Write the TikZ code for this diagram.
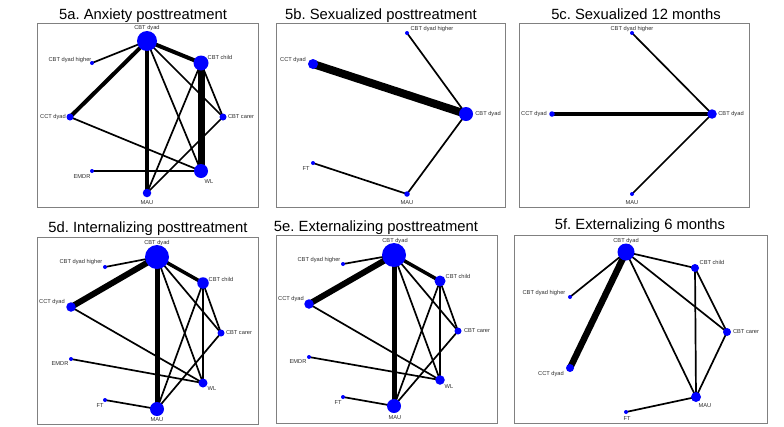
\documentclass[tikz,border=0pt]{standalone}
\usepackage{fontspec}
\setmainfont{Liberation Sans}
\usetikzlibrary{backgrounds}
\frenchspacing
\definecolor{nodeblue}{RGB}{0,0,255}
\definecolor{framegray}{RGB}{128,128,128}
\definecolor{labelgray}{RGB}{45,45,45}
\tikzset{
 dot/.style={circle, fill=nodeblue, draw=none, inner sep=0pt, minimum size=#1},
 lab/.style={font=\fontsize{5.7}{6}\selectfont, text=labelgray, inner sep=0pt},
 ttl/.style={font=\fontsize{14.8}{17}\selectfont, anchor=base, inner sep=0pt},
 frame/.style={draw=framegray, line width=1pt},
 edge/.style={line width=#1, black},
 edge/.default=1.7pt
}
\begin{document}
\begin{tikzpicture}[x=1pt,y=-1pt]
\useasboundingbox (0,0) rectangle (784,426);

% frames
\draw[frame] (37,23) rectangle (258,207);
\draw[frame] (276,23) rectangle (505,207);
\draw[frame] (519,23) rectangle (749,207);
\draw[frame] (37,237) rectangle (258,424);
\draw[frame] (276,235) rectangle (497,423);
\draw[frame] (514,235) rectangle (767,423);

% titles
\node[ttl] (ta) at (143,19) {5a. Anxiety posttreatment};
\node[ttl] (tb) at (381,19) {5b. Sexualized posttreatment};
\node[ttl] (tc) at (636,19) {5c. Sexualized 12 months};
\node[ttl] (td) at (148,232) {5d. Internalizing posttreatment};
\node[ttl] (te) at (376,231) {5e. Externalizing posttreatment};
\node[ttl] (tf) at (640,229) {5f. Externalizing 6 months};

% ---------- panel a ----------
\node[dot=20pt] (ad) at (147,41) {};
\node[dot=4pt] (ah) at (92,63) {};
\node[dot=15pt] (ach) at (201,63) {};
\node[dot=7pt] (acc) at (70,117) {};
\node[dot=7pt] (aca) at (223,117) {};
\node[dot=4pt] (aem) at (92,171) {};
\node[dot=14pt] (awl) at (201,171) {};
\node[dot=8.5pt] (amau) at (147,193) {};
\node[lab] (adL) at (147,28) {CBT dyad};
\node[lab] (ahL) at (70,60) {CBT dyad higher};
\node[lab] (achL) at (220,57) {CBT child};
\node[lab] (accL) at (53,117) {CCT dyad};
\node[lab] (acaL) at (241,117) {CBT carer};
\node[lab] (aemL) at (82,177) {EMDR};
\node[lab] (awlL) at (209,182) {WL};
\node[lab] (amauL) at (147,203) {MAU};
\begin{scope}[on background layer]
\draw[edge=4pt] (ad.center) -- (ach.center);
\draw[edge=4pt] (ad.center) -- (acc.center);
\draw[edge=4.3pt] (ad.center) -- (amau.center);
\draw[edge] (ad.center) -- (ah.center);
\draw[edge] (ad.center) -- (awl.center);
\draw[edge] (ad.center) -- (aca.center);
\draw[edge=7pt] (ach.center) -- (awl.center);
\draw[edge] (ach.center) -- (aca.center);
\draw[edge] (ach.center) -- (amau.center);
\draw[edge] (aca.center) -- (amau.center);
\draw[edge] (acc.center) -- (awl.center);
\draw[edge] (aem.center) -- (awl.center);
\end{scope}

% ---------- panel b ----------
\node[dot=4pt] (bh) at (407,33) {};
\node[dot=10pt] (bcc) at (313,64) {};
\node[dot=14pt] (bd) at (466,114) {};
\node[dot=4pt] (bft) at (313,163) {};
\node[dot=5.5pt] (bmau) at (407,194) {};
\node[lab] (bhL) at (432,29) {CBT dyad higher};
\node[lab] (bccL) at (293,60) {CCT dyad};
\node[lab] (bdL) at (488,114) {CBT dyad};
\node[lab] (bftL) at (306,169) {FT};
\node[lab] (bmauL) at (407,203) {MAU};
\begin{scope}[on background layer]
\draw[edge=8pt] (bcc.center) -- (bd.center);
\draw[edge] (bh.center) -- (bd.center);
\draw[edge] (bd.center) -- (bmau.center);
\draw[edge] (bft.center) -- (bmau.center);
\end{scope}

% ---------- panel c ----------
\node[dot=4pt] (ch) at (632,33) {};
\node[dot=5.5pt] (ccc) at (552,114) {};
\node[dot=9.5pt] (cd) at (712,114) {};
\node[dot=4pt] (cmau) at (632,194) {};
\node[lab] (chL) at (632,29) {CBT dyad higher};
\node[lab] (cccL) at (534,114) {CCT dyad};
\node[lab] (cdL) at (731,114) {CBT dyad};
\node[lab] (cmauL) at (632,203) {MAU};
\begin{scope}[on background layer]
\draw[edge=4.7pt] (ccc.center) -- (cd.center);
\draw[edge] (ch.center) -- (cd.center);
\draw[edge] (cmau.center) -- (cd.center);
\end{scope}

% ---------- panel d ----------
\node[dot=24pt] (dd) at (157,257) {};
\node[dot=4pt] (dh) at (105,267) {};
\node[dot=11.5pt] (dch) at (203,283) {};
\node[dot=9.5pt] (dcc) at (71,307) {};
\node[dot=7pt] (dca) at (221,333) {};
\node[dot=4pt] (dem) at (71,359) {};
\node[dot=9pt] (dwl) at (203,383) {};
\node[dot=4pt] (dft) at (105,400) {};
\node[dot=14pt] (dmau) at (157,409) {};
\node[lab] (ddL) at (157,243) {CBT dyad};
\node[lab] (dhL) at (81,262) {CBT dyad higher};
\node[lab] (dchL) at (221,279) {CBT child};
\node[lab] (dccL) at (52,302) {CCT dyad};
\node[lab] (dcaL) at (239,333) {CBT carer};
\node[lab] (demL) at (60,364) {EMDR};
\node[lab] (dwlL) at (212,389) {WL};
\node[lab] (dftL) at (100,406) {FT};
\node[lab] (dmauL) at (157,420) {MAU};
\begin{scope}[on background layer]
\draw[edge=6pt] (dd.center) -- (dcc.center);
\draw[edge=5pt] (dd.center) -- (dmau.center);
\draw[edge=3.5pt] (dd.center) -- (dch.center);
\draw[edge] (dd.center) -- (dh.center);
\draw[edge] (dd.center) -- (dwl.center);
\draw[edge] (dd.center) -- (dca.center);
\draw[edge] (dch.center) -- (dwl.center);
\draw[edge] (dch.center) -- (dca.center);
\draw[edge] (dch.center) -- (dmau.center);
\draw[edge] (dca.center) -- (dmau.center);
\draw[edge] (dcc.center) -- (dwl.center);
\draw[edge] (dem.center) -- (dwl.center);
\draw[edge] (dft.center) -- (dmau.center);
\end{scope}

% ---------- panel e ----------
\node[dot=24pt] (ed) at (394,255) {};
\node[dot=4pt] (eh) at (343,264) {};
\node[dot=11pt] (ech) at (440,281) {};
\node[dot=9.5pt] (ecc) at (309,304) {};
\node[dot=7pt] (eca) at (458,331) {};
\node[dot=4pt] (eem) at (309,357) {};
\node[dot=9.5pt] (ewl) at (440,380) {};
\node[dot=4pt] (eft) at (343,397) {};
\node[dot=14pt] (emau) at (394,406) {};
\node[lab] (edL) at (395,241) {CBT dyad};
\node[lab] (ehL) at (319,260) {CBT dyad higher};
\node[lab] (echL) at (458,276) {CBT child};
\node[lab] (eccL) at (291,299) {CCT dyad};
\node[lab] (ecaL) at (477,331) {CBT carer};
\node[lab] (eemL) at (298,362) {EMDR};
\node[lab] (ewlL) at (449,387) {WL};
\node[lab] (eftL) at (338,403) {FT};
\node[lab] (emauL) at (395,418) {MAU};
\begin{scope}[on background layer]
\draw[edge=6pt] (ed.center) -- (ecc.center);
\draw[edge=5pt] (ed.center) -- (emau.center);
\draw[edge=3.5pt] (ed.center) -- (ech.center);
\draw[edge] (ed.center) -- (eh.center);
\draw[edge] (ed.center) -- (ewl.center);
\draw[edge] (ed.center) -- (eca.center);
\draw[edge] (ech.center) -- (ewl.center);
\draw[edge] (ech.center) -- (eca.center);
\draw[edge] (ech.center) -- (emau.center);
\draw[edge] (eca.center) -- (emau.center);
\draw[edge] (ecc.center) -- (ewl.center);
\draw[edge] (eem.center) -- (ewl.center);
\draw[edge] (eft.center) -- (emau.center);
\end{scope}

% ---------- panel f ----------
\node[dot=17pt] (fd) at (626,252) {};
\node[dot=8pt] (fch) at (695,268) {};
\node[dot=4pt] (fh) at (570,297) {};
\node[dot=8pt] (fca) at (727,332) {};
\node[dot=8pt] (fcc) at (570,368) {};
\node[dot=10pt] (fmau) at (696,397) {};
\node[dot=4pt] (fft) at (626,412) {};
\node[lab] (fdL) at (626,241) {CBT dyad};
\node[lab] (fchL) at (712,262) {CBT child};
\node[lab] (fhL) at (544,293) {CBT dyad higher};
\node[lab] (fcaL) at (746,332) {CBT carer};
\node[lab] (fccL) at (551,374) {CCT dyad};
\node[lab] (fmauL) at (705,406) {MAU};
\node[lab] (fftL) at (627,419) {FT};
\begin{scope}[on background layer]
\draw[edge=6.5pt] (fd.center) -- (fcc.center);
\draw[edge] (fd.center) -- (fh.center);
\draw[edge] (fd.center) -- (fch.center);
\draw[edge] (fd.center) -- (fca.center);
\draw[edge] (fd.center) -- (fmau.center);
\draw[edge] (fch.center) -- (fmau.center);
\draw[edge] (fch.center) -- (fca.center);
\draw[edge] (fca.center) -- (fmau.center);
\draw[edge] (fmau.center) -- (fft.center);
\end{scope}
\end{tikzpicture}
\end{document}
